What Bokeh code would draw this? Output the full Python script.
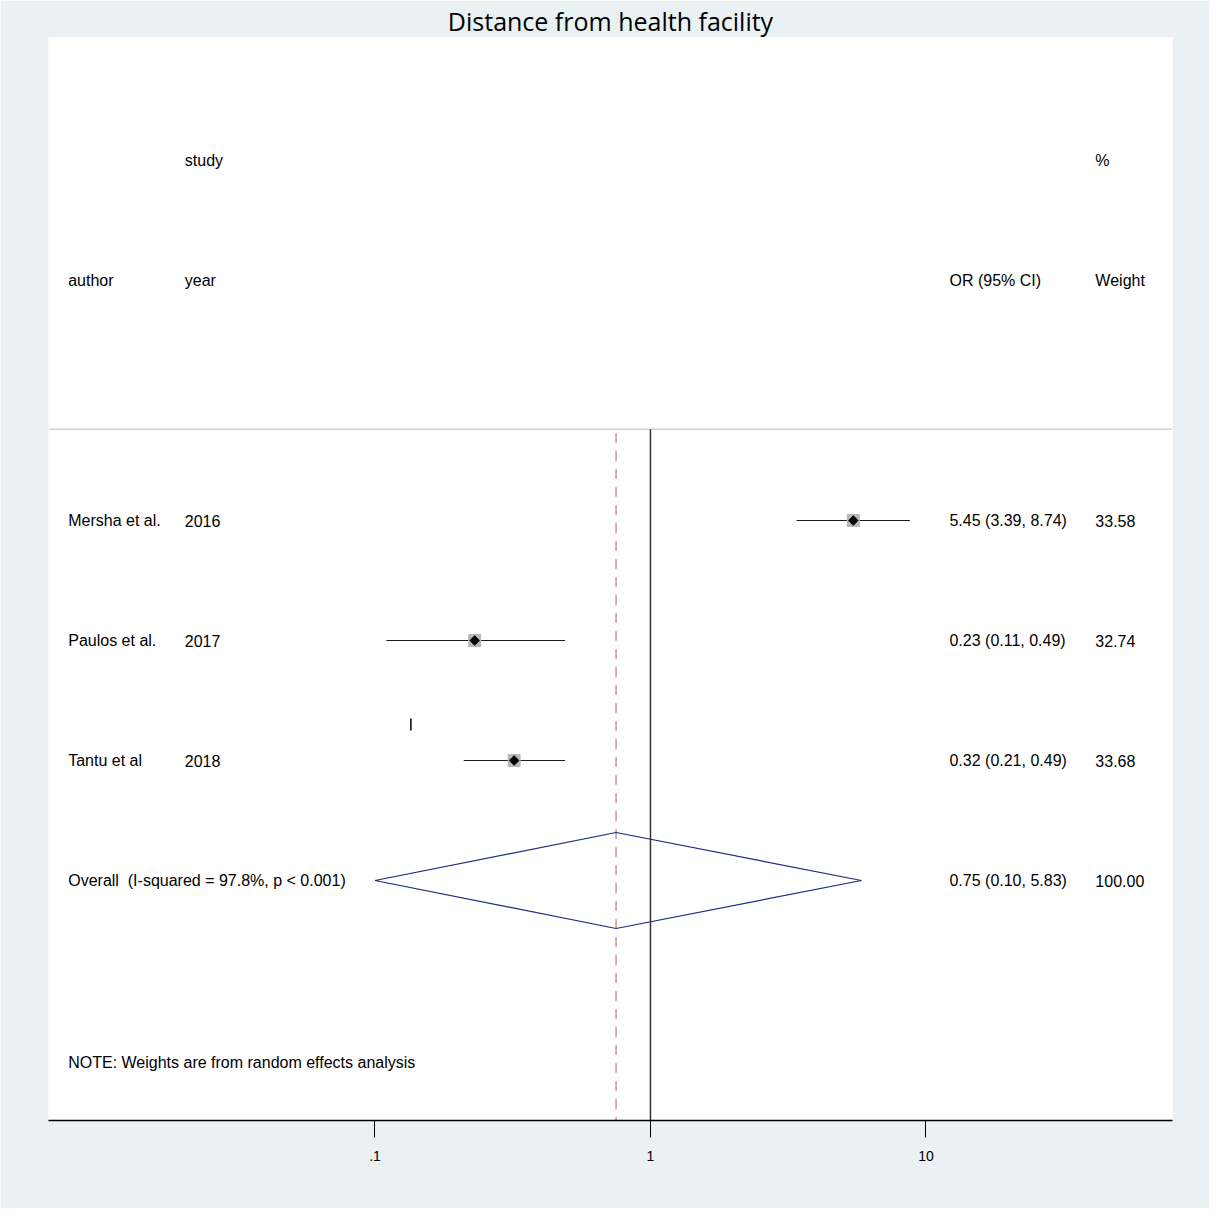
import math
from bokeh.plotting import figure
from bokeh.models import Range1d, FixedTicker, ColumnDataSource, Title
from bokeh.core.properties import value
from bokeh.embed import file_html
from bokeh.resources import INLINE

# ---- data ----
authors = ["Mersha et al.", "Paulos et al.", "Tantu et al"]
years = ["2016", "2017", "2018"]
or_est = [5.45, 0.23, 0.32]
ci_low = [3.39, 0.11, 0.21]
ci_high = [8.74, 0.49, 0.49]
weights = [33.58, 32.74, 33.68]
or_labels = ["5.45 (3.39, 8.74)", "0.23 (0.11, 0.49)", "0.32 (0.21, 0.49)"]
weight_labels = ["33.58", "32.74", "33.68"]

overall_est = 0.75
overall_low = 0.10
overall_high = 5.83
overall_label = "Overall\u00a0 (I-squared = 97.8%, p < 0.001)"
overall_or_label = "0.75 (0.10, 5.83)"
overall_weight_label = "100.00"

stray_mark_x = 0.135  # small stray tick visible in original above Tantu row

tick_values = [0.1, 1, 10]
tick_labels = [".1", "1", "10"]

title_text = "Distance from health facility"
note_text = "NOTE: Weights are from random effects analysis"

# ---- layout helpers (row positions in y units, columns in x data units) ----
row_y = [5, 4, 3]
overall_y = 2
header1_y = 8
header2_y = 7
sep_y = 5.76
note_y = 0.48
col_author = 0.0077
col_year = 0.0204
col_or = 12.17
col_weight = 41.2

BG = "#e9f1f3"
FONT = "Liberation Sans"
FS = "16px"

p = figure(width=1209, height=1208, x_axis_type="log",
           x_range=Range1d(0.00653, 78.5), y_range=Range1d(0, 9.025),
           output_backend="svg", toolbar_location=None,
           min_border_left=48, min_border_right=37, min_border_top=37,
           min_border_bottom=88)
p.background_fill_color = "white"
p.border_fill_color = BG
p.outline_line_color = None
p.grid.visible = False
p.yaxis.visible = False

p.title = Title(text=title_text, align="center", text_font="Open Sans",
                text_font_size="25px", text_font_style="normal",
                text_color="black", offset=0, standoff=0)

ax = p.xaxis[0]
ax.ticker = FixedTicker(ticks=tick_values, minor_ticks=[])
ax.major_label_overrides = {v: l for v, l in zip(tick_values, tick_labels)}
ax.axis_line_color = "black"
ax.axis_line_width = 1.5
ax.major_tick_line_color = "black"
ax.major_tick_line_width = 1
ax.major_tick_out = 17
ax.major_tick_in = 0
ax.minor_tick_line_color = None
ax.major_label_text_font = FONT
ax.major_label_text_font_size = "14px"
ax.major_label_text_color = "black"
ax.major_label_standoff = 13

# separator
p.segment(x0=[0.00653], x1=[78.5], y0=[sep_y], y1=[sep_y],
          line_color="#d2d2d2", line_width=1.5)

# reference line at 1 and dashed overall line
p.segment(x0=[1], x1=[1], y0=[sep_y], y1=[0], line_color="#333333", line_width=1.5)
p.segment(x0=[overall_est], x1=[overall_est], y0=[sep_y - 0.03], y1=[0],
          line_color="#c8969b", line_width=1.5, line_dash="10 8")

# CIs
src = ColumnDataSource(dict(y=row_y, est=or_est, lo=ci_low, hi=ci_high, w=weights))
p.segment(x0="lo", x1="hi", y0="y", y1="y", source=src, line_color="#1a1a1a", line_width=1.2)
p.scatter(x="est", y="y", source=src, marker="square", size=13,
          fill_color="#b8b8b8", line_color=None)
p.scatter(x="est", y="y", source=src, marker="square", size=7.5, angle=math.pi / 4,
          fill_color="black", line_color=None)

# stray mark
p.segment(x0=[stray_mark_x], x1=[stray_mark_x], y0=[3.35], y1=[3.25],
          line_color="black", line_width=1.5)

# overall diamond
h = 0.4
p.patch(x=[overall_low, overall_est, overall_high, overall_est, overall_low],
        y=[overall_y, overall_y + h, overall_y, overall_y - h, overall_y],
        fill_color=None, line_color="#1f2a80", line_width=1.2)

def txt(x, y, s, align="left"):
    p.text(x=x, y=y, text=s, text_font=value(FONT), text_font_size=FS,
           text_color="black", text_baseline="middle", text_align=align)

txt([col_year, col_weight], [header1_y] * 2, ["study", "%"])
txt([col_author, col_year, col_or, col_weight], [header2_y] * 4,
    ["author", "year", "OR (95% CI)", "Weight"])
txt([col_author] * 3, row_y, authors)
txt([col_year] * 3, row_y, years)
txt([col_or] * 3, row_y, or_labels)
txt([col_weight] * 3, row_y, weight_labels)
txt([col_author, col_or, col_weight], [overall_y] * 3,
    [overall_label, overall_or_label, overall_weight_label])
txt([col_author], [note_y], [note_text])

open("out.html", "w").write(file_html(p, INLINE))
